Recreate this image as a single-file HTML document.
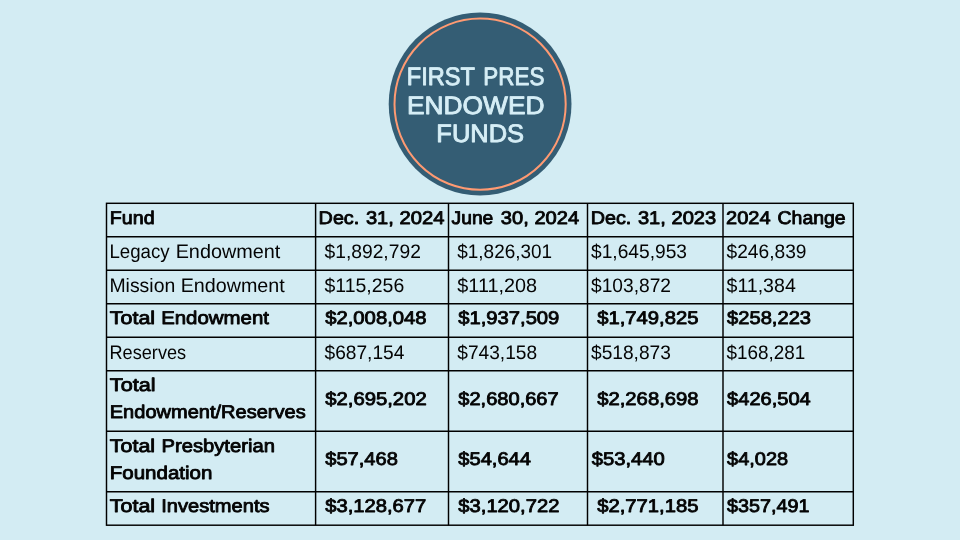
<!DOCTYPE html>
<html lang="en"><head><meta charset="utf-8"><title>First Pres Endowed Funds</title>
<style>html,body{margin:0;padding:0;background:#d3ecf3;overflow:hidden}svg{display:block}text{font-family:"Liberation Sans",sans-serif;text-rendering:geometricPrecision}.t{font-size:19.5px;fill:#040404}.b{font-size:18.4px;stroke:#040404;stroke-width:0.85px;stroke-linejoin:round}.h{font-size:25.3px;fill:#d6eef6;stroke:#d6eef6;stroke-width:0.9px;stroke-linejoin:round}</style></head><body>
<svg width="960" height="540" viewBox="0 0 960 540">
<rect width="960" height="540" fill="#d3ecf3"/>
<circle cx="480.1" cy="104" r="91.4" fill="#345d74"/>
<circle cx="480.1" cy="104.2" r="85.6" fill="none" stroke="#ff9a72" stroke-width="2"/>
<text class="h" y="85.00"><tspan x="406.83" textLength="67.76" lengthAdjust="spacingAndGlyphs">FIRST</tspan> <tspan x="483.31" textLength="61.05" lengthAdjust="spacingAndGlyphs">PRES</tspan></text>
<text class="h" y="114.00"><tspan x="406.99" textLength="137.50" lengthAdjust="spacingAndGlyphs">ENDOWED</tspan></text>
<text class="h" y="142.00"><tspan x="436.36" textLength="87.64" lengthAdjust="spacingAndGlyphs">FUNDS</tspan></text>
<g stroke="#000" stroke-width="1.45" fill="none">
<rect x="106.5" y="203.3" width="746.8" height="321.9"/>
<line x1="106.5" y1="236.8" x2="853.3" y2="236.8"/>
<line x1="106.5" y1="270.3" x2="853.3" y2="270.3"/>
<line x1="106.5" y1="303.8" x2="853.3" y2="303.8"/>
<line x1="106.5" y1="337.3" x2="853.3" y2="337.3"/>
<line x1="106.5" y1="370.8" x2="853.3" y2="370.8"/>
<line x1="106.5" y1="431.3" x2="853.3" y2="431.3"/>
<line x1="106.5" y1="491.8" x2="853.3" y2="491.8"/>
<line x1="315.6" y1="203.3" x2="315.6" y2="525.2"/>
<line x1="448.5" y1="203.3" x2="448.5" y2="525.2"/>
<line x1="587.5" y1="203.3" x2="587.5" y2="525.2"/>
<line x1="723.0" y1="203.3" x2="723.0" y2="525.2"/>
</g>
<text class="t b" y="224.24"><tspan x="109.81" textLength="44.83" lengthAdjust="spacingAndGlyphs">Fund</tspan></text>
<text class="t" y="257.75"><tspan x="109.47" textLength="60.16" lengthAdjust="spacingAndGlyphs">Legacy</tspan> <tspan x="175.67" textLength="104.66" lengthAdjust="spacingAndGlyphs">Endowment</tspan></text>
<text class="t" y="291.67"><tspan x="109.41" textLength="65.83" lengthAdjust="spacingAndGlyphs">Mission</tspan> <tspan x="180.68" textLength="104.10" lengthAdjust="spacingAndGlyphs">Endowment</tspan></text>
<text class="t b" y="324.25"><tspan x="109.85" textLength="45.24" lengthAdjust="spacingAndGlyphs">Total</tspan> <tspan x="161.15" textLength="107.81" lengthAdjust="spacingAndGlyphs">Endowment</tspan></text>
<text class="t" y="358.67"><tspan x="109.51" textLength="76.63" lengthAdjust="spacingAndGlyphs">Reserves</tspan></text>
<text class="t b" y="391.25"><tspan x="109.85" textLength="45.66" lengthAdjust="spacingAndGlyphs">Total</tspan></text>
<text class="t b" y="418.25"><tspan x="109.78" textLength="195.92" lengthAdjust="spacingAndGlyphs">Endowment/Reserves</tspan></text>
<text class="t b" y="452.25"><tspan x="109.85" textLength="45.24" lengthAdjust="spacingAndGlyphs">Total</tspan> <tspan x="161.47" textLength="113.40" lengthAdjust="spacingAndGlyphs">Presbyterian</tspan></text>
<text class="t b" y="479.25"><tspan x="109.74" textLength="102.64" lengthAdjust="spacingAndGlyphs">Foundation</tspan></text>
<text class="t b" y="512.25"><tspan x="109.85" textLength="45.24" lengthAdjust="spacingAndGlyphs">Total</tspan> <tspan x="161.28" textLength="108.27" lengthAdjust="spacingAndGlyphs">Investments</tspan></text>
<text class="t b" y="224.24"><tspan x="318.60" textLength="40.68" lengthAdjust="spacingAndGlyphs">Dec.</tspan> <tspan x="365.96" textLength="27.92" lengthAdjust="spacingAndGlyphs">31,</tspan> <tspan x="399.51" textLength="44.96" lengthAdjust="spacingAndGlyphs">2024</tspan></text>
<text class="t" y="257.75"><tspan x="324.51" textLength="96.35" lengthAdjust="spacingAndGlyphs">$1,892,792</tspan></text>
<text class="t" y="291.67"><tspan x="324.51" textLength="79.73" lengthAdjust="spacingAndGlyphs">$115,256</tspan></text>
<text class="t b" y="324.25"><tspan x="325.22" textLength="101.32" lengthAdjust="spacingAndGlyphs">$2,008,048</tspan></text>
<text class="t" y="358.67"><tspan x="324.51" textLength="79.85" lengthAdjust="spacingAndGlyphs">$687,154</tspan></text>
<text class="t b" y="405.25"><tspan x="325.22" textLength="101.46" lengthAdjust="spacingAndGlyphs">$2,695,202</tspan></text>
<text class="t b" y="465.25"><tspan x="325.22" textLength="72.61" lengthAdjust="spacingAndGlyphs">$57,468</tspan></text>
<text class="t b" y="512.25"><tspan x="325.22" textLength="101.06" lengthAdjust="spacingAndGlyphs">$3,128,677</tspan></text>
<text class="t b" y="224.24"><tspan x="451.54" textLength="41.80" lengthAdjust="spacingAndGlyphs">June</tspan> <tspan x="500.86" textLength="27.92" lengthAdjust="spacingAndGlyphs">30,</tspan> <tspan x="534.42" textLength="44.70" lengthAdjust="spacingAndGlyphs">2024</tspan></text>
<text class="t" y="257.75"><tspan x="457.31" textLength="94.80" lengthAdjust="spacingAndGlyphs">$1,826,301</tspan></text>
<text class="t" y="291.67"><tspan x="457.30" textLength="79.86" lengthAdjust="spacingAndGlyphs">$111,208</tspan></text>
<text class="t b" y="324.25"><tspan x="458.32" textLength="101.00" lengthAdjust="spacingAndGlyphs">$1,937,509</tspan></text>
<text class="t" y="358.67"><tspan x="457.31" textLength="79.81" lengthAdjust="spacingAndGlyphs">$743,158</tspan></text>
<text class="t b" y="405.25"><tspan x="458.32" textLength="100.35" lengthAdjust="spacingAndGlyphs">$2,680,667</tspan></text>
<text class="t b" y="465.25"><tspan x="458.32" textLength="72.63" lengthAdjust="spacingAndGlyphs">$54,644</tspan></text>
<text class="t b" y="512.25"><tspan x="458.32" textLength="101.06" lengthAdjust="spacingAndGlyphs">$3,120,722</tspan></text>
<text class="t b" y="224.24"><tspan x="590.66" textLength="40.62" lengthAdjust="spacingAndGlyphs">Dec.</tspan> <tspan x="637.96" textLength="27.92" lengthAdjust="spacingAndGlyphs">31,</tspan> <tspan x="671.52" textLength="44.73" lengthAdjust="spacingAndGlyphs">2023</tspan></text>
<text class="t" y="257.75"><tspan x="591.01" textLength="96.01" lengthAdjust="spacingAndGlyphs">$1,645,953</tspan></text>
<text class="t" y="291.67"><tspan x="591.01" textLength="80.05" lengthAdjust="spacingAndGlyphs">$103,872</tspan></text>
<text class="t b" y="324.25"><tspan x="597.22" textLength="101.28" lengthAdjust="spacingAndGlyphs">$1,749,825</tspan></text>
<text class="t" y="358.67"><tspan x="591.01" textLength="79.91" lengthAdjust="spacingAndGlyphs">$518,873</tspan></text>
<text class="t b" y="405.25"><tspan x="597.22" textLength="101.32" lengthAdjust="spacingAndGlyphs">$2,268,698</tspan></text>
<text class="t b" y="465.25"><tspan x="591.67" textLength="73.07" lengthAdjust="spacingAndGlyphs">$53,440</tspan></text>
<text class="t b" y="512.25"><tspan x="597.22" textLength="101.28" lengthAdjust="spacingAndGlyphs">$2,771,185</tspan></text>
<text class="t b" y="224.24"><tspan x="726.12" textLength="44.54" lengthAdjust="spacingAndGlyphs">2024</tspan> <tspan x="777.55" textLength="68.13" lengthAdjust="spacingAndGlyphs">Change</tspan></text>
<text class="t" y="257.75"><tspan x="726.51" textLength="79.99" lengthAdjust="spacingAndGlyphs">$246,839</tspan></text>
<text class="t" y="291.67"><tspan x="726.50" textLength="69.27" lengthAdjust="spacingAndGlyphs">$11,384</tspan></text>
<text class="t b" y="324.25"><tspan x="727.12" textLength="83.91" lengthAdjust="spacingAndGlyphs">$258,223</tspan></text>
<text class="t" y="358.67"><tspan x="726.51" textLength="78.79" lengthAdjust="spacingAndGlyphs">$168,281</tspan></text>
<text class="t b" y="405.25"><tspan x="727.12" textLength="83.63" lengthAdjust="spacingAndGlyphs">$426,504</tspan></text>
<text class="t b" y="465.25"><tspan x="727.13" textLength="60.92" lengthAdjust="spacingAndGlyphs">$4,028</tspan></text>
<text class="t b" y="512.25"><tspan x="727.13" textLength="82.39" lengthAdjust="spacingAndGlyphs">$357,491</tspan></text>
</svg></body></html>
